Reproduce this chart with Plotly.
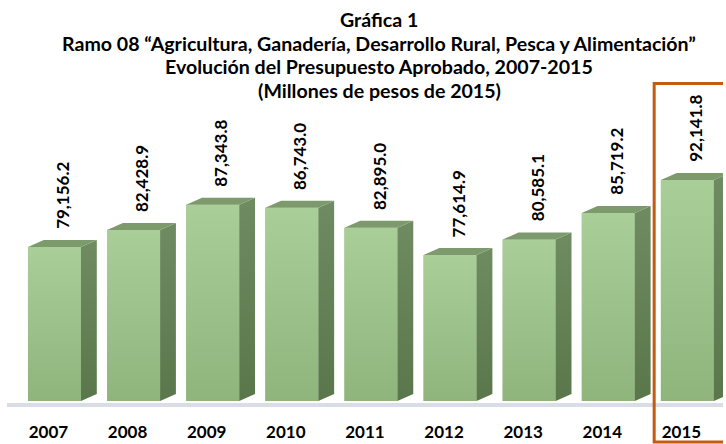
import plotly.graph_objects as go

years = ["2007", "2008", "2009", "2010", "2011", "2012", "2013", "2014", "2015"]
values = [79156.2, 82428.9, 87343.8, 86743.0, 82895.0, 77614.9, 80585.1, 85719.2, 92141.8]
labels = ["79,156.2", "82,428.9", "87,343.8", "86,743.0", "82,895.0", "77,614.9", "80,585.1", "85,719.2", "92,141.8"]
title_lines = [
    "Gráfica 1",
    "Ramo 08 “Agricultura, Ganadería, Desarrollo Rural, Pesca y Alimentación”",
    "Evolución del Presupuesto Aprobado, 2007-2015",
    "(Millones de pesos de 2015)",
]

BASE = 49300.0       # value at the floor line
W = 0.67             # front face width (category units)
DX = 0.2             # 3D depth in x
DY = 1350.0          # 3D depth in y (value units)

FONT = "Lato"
fig = go.Figure()

xs = list(range(len(years)))

# front faces (bars)
fig.add_trace(go.Bar(
    x=xs, y=[v - BASE for v in values], base=BASE, width=W,
    marker=dict(color="#9dc38b", line=dict(width=0)),
    hoverinfo="skip", showlegend=False,
))

for i, v in enumerate(values):
    xr = i + W / 2
    xl = i - W / 2
    # gradient shading of the front face
    fig.add_trace(go.Scatter(
        x=[xl, xr, xr, xl, xl],
        y=[BASE, BASE, v, v, BASE],
        fill="toself", mode="lines", line=dict(width=0),
        fillgradient=dict(type="vertical",
                          colorscale=[[0, "#8fb57d"], [1, "#a9ce98"]]),
        hoverinfo="skip", showlegend=False,
    ))
    # side face
    fig.add_trace(go.Scatter(
        x=[xr, xr + DX, xr + DX, xr, xr],
        y=[BASE, BASE + DY, v + DY, v, BASE],
        fill="toself", mode="lines", line=dict(width=0),
        fillgradient=dict(type="vertical",
                          colorscale=[[0, "#5a774c"], [1, "#6f8b61"]]),
        hoverinfo="skip", showlegend=False,
    ))
    # top face
    fig.add_trace(go.Scatter(
        x=[xl, xl + DX, xr + DX, xr, xl],
        y=[v, v + DY, v + DY, v, v],
        fill="toself", mode="lines", line=dict(width=0),
        fillcolor="#7d9a6d", hoverinfo="skip", showlegend=False,
    ))
    fig.add_annotation(
        x=i + DX / 2, y=v + DY, text="<b>" + labels[i] + "</b>",
        textangle=-90, showarrow=False, xanchor="center", yanchor="bottom",
        yshift=9, font=dict(family=FONT, size=17, color="#000000"),
    )

# floor
fig.add_shape(type="rect", xref="paper", yref="y", x0=0, x1=1,
              y0=BASE - 1160, y1=BASE - 390, fillcolor="#d9dde6",
              line=dict(width=0), layer="below")

# highlight box around 2015
fig.add_shape(type="rect", xref="x", yref="paper", x0=7.58, x1=8.9,
              y0=-0.1, y1=1.0203, line=dict(color="#c55a11", width=3),
              fillcolor="rgba(0,0,0,0)")

for line, ys in zip(title_lines, [71, 47, 24, 0]):
    fig.add_annotation(text="<b>" + line + "</b>", xref="paper", yref="paper",
                       x=0.5196, y=1.0, yshift=ys, xanchor="center", yanchor="middle",
                       showarrow=False,
                       font=dict(family=FONT, size=19.6, color="#000000"))

fig.update_layout(
    width=726, height=444,
    margin=dict(l=7, r=3, t=90, b=34),
    paper_bgcolor="white", plot_bgcolor="white",
    xaxis=dict(range=[-0.6, 8.45], tickmode="array", tickvals=xs, ticktext=years,
               showgrid=False, zeroline=False, showline=False, ticks="",
               tickfont=dict(family=FONT, size=17, color="#000000", weight="bold"),
               ticklabelshift=-6, ticklabelstandoff=10),
    yaxis=dict(range=[47556, 109572], visible=False),
)

fig.write_html("out.html", config={"displayModeBar": False},
               post_script="document.body.style.margin='0';")
